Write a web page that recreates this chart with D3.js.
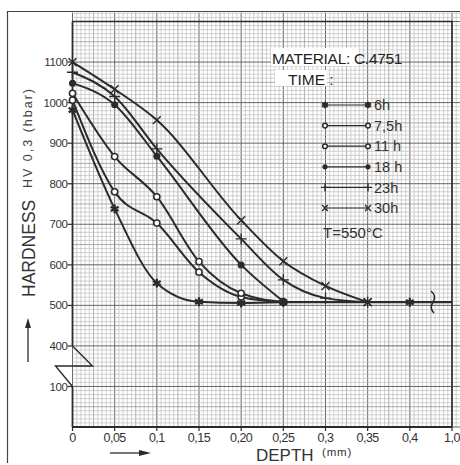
<!DOCTYPE html>
<html>
<head>
<meta charset="utf-8">
<script src="https://cdn.jsdelivr.net/npm/d3@7"></script>
<style>
  body { margin: 0; background: #fff; }
  svg { display: block; font-family: "Liberation Sans", Arial, sans-serif; }
</style>
</head>
<body>
<svg id="chart" width="460" height="465"></svg>
<script>
// tick labels
const depthTicks = [0, 0.05, 0.1, 0.15, 0.2, 0.25, 0.3, 0.35, 0.4, 0.45]
const depthLabels = ["0", "0,05", "0,1", "0,15", "0,20", "0,25", "0,3", "0,35", "0,4", "1,0"]
const hardTicks = [100, 400, 500, 600, 700, 800, 900, 1000, 1100]

// series : [depth mm, hardness HV]
const names = ["6h", "7,5h", "11 h", "18 h", "23h", "30h"]
const marks = ["star", "circle", "circle", "dot", "plus", "cross"]
const h6 = [[0, 982], [0.05, 738], [0.1, 555], [0.15, 509], [0.2, 506], [0.25, 508]]
const h75 = [[0, 1006], [0.05, 780], [0.1, 703], [0.15, 582], [0.2, 521], [0.25, 508]]
const h11 = [[0, 1023], [0.05, 867], [0.1, 768], [0.15, 608], [0.2, 530], [0.25, 509]]
const h18 = [[0, 1048], [0.05, 995], [0.1, 868], [0.2, 600], [0.25, 510]]
const h23 = [[0, 1075], [0.05, 1015], [0.1, 886], [0.2, 664], [0.25, 563], [0.3, 518], [0.35, 508]]
const h30 = [[0, 1100], [0.05, 1033], [0.1, 957], [0.2, 710], [0.25, 609], [0.3, 548], [0.35, 508]]
const series = [h6, h75, h11, h18, h23, h30]
// common base line after the curves meet
const tail = [[0.25, 508], [0.45, 508]]
const tailMarks = [[0.35, 508, "cross"], [0.4, 508, "star"]]

const svg = d3.select("#chart")
const ink = "#2b2b2b"

const x = d3.scaleLinear().domain([0, 0.45]).range([72.5, 452])
// broken axis between 100 and 400
const y = d3.scaleLinear().domain([0, 100, 400, 1200]).range([427, 386.5, 346, 21.5])
const gy = d3.scaleLinear().domain([0, 10]).range([427, 21.5])

// outer frame
svg.append("path").attr("d", "M7.5,463 V11.5 H460")
  .attr("fill", "none").attr("stroke", "#444").attr("stroke-width", 1.2)

// graph paper
const grid = svg.append("g")
d3.range(0, 93).forEach(i => {
  const px = x(i * 0.005)
  if (px > 460) return
  grid.append("line").attr("x1", px).attr("x2", px).attr("y1", 12.5).attr("y2", 427)
    .attr("stroke", i % 10 == 0 ? "#666" : i % 5 == 0 ? "#8c8c8c" : "#bdbdbd")
    .attr("stroke-width", i % 10 == 0 ? 1 : 0.7)
})
d3.range(0, 103).forEach(i => {
  const py = gy(i / 10)
  grid.append("line").attr("x1", 72.5).attr("x2", 460).attr("y1", py).attr("y2", py)
    .attr("stroke", i % 10 == 0 ? "#666" : i % 5 == 0 ? "#8c8c8c" : "#bdbdbd")
    .attr("stroke-width", i % 10 == 0 ? 1 : 0.7)
})

// plot frame
svg.append("path").attr("d", `M${x(0)},${y(1200)} H${x(0.45)} V${y(0)}`)
  .attr("fill", "none").attr("stroke", ink).attr("stroke-width", 1.6)
svg.append("line").attr("x1", x(0)).attr("x2", x(0.45)).attr("y1", y(0)).attr("y2", y(0))
  .attr("stroke", ink).attr("stroke-width", 1.8)
svg.append("line").attr("x1", x(0)).attr("x2", x(0)).attr("y1", y(1200)).attr("y2", y(400))
  .attr("stroke", ink).attr("stroke-width", 1.8)
svg.append("line").attr("x1", x(0)).attr("x2", x(0)).attr("y1", y(100)).attr("y2", y(0))
  .attr("stroke", ink).attr("stroke-width", 1.8)
// axis break symbol
svg.append("path")
  .attr("d", `M${x(0)},${y(400)} L${x(0) + 20},${y(400) + 20} L${x(0) - 17},${y(400) + 20} L${x(0)},${y(100)}`)
  .attr("fill", "none").attr("stroke", ink).attr("stroke-width", 1.4)

// y ticks
const yt = svg.append("g").attr("font-size", 11.5).attr("fill", "#333")
hardTicks.forEach(v => {
  yt.append("line").attr("x1", x(0) - 5).attr("x2", x(0)).attr("y1", y(v)).attr("y2", y(v))
    .attr("stroke", ink).attr("stroke-width", 1.2)
  yt.append("text").attr("x", x(0) - 5).attr("y", y(v)).attr("dy", "0.35em")
    .attr("text-anchor", "end").attr("letter-spacing", -0.4).text(v)
})
// x ticks
const xt = svg.append("g").attr("font-size", 12.5).attr("fill", "#333")
depthTicks.forEach((d, i) => {
  xt.append("line").attr("x1", x(d)).attr("x2", x(d)).attr("y1", y(0)).attr("y2", y(0) + 4)
    .attr("stroke", ink).attr("stroke-width", 1.2)
  xt.append("text").attr("x", x(d)).attr("y", 442).attr("text-anchor", "middle")
    .attr("letter-spacing", -0.5).text(depthLabels[i])
})

// axis titles
svg.append("text").attr("transform", "translate(34.5,297) rotate(-90)")
  .attr("font-size", 17.5).attr("fill", "#333").text("HARDNESS")
svg.append("text").attr("transform", "translate(31.5,188) rotate(-90)")
  .attr("font-size", 12.5).attr("fill", "#444")
  .attr("textLength", 99).attr("lengthAdjust", "spacing").text("HV 0,3 (hbar)")
svg.append("text").attr("x", 256).attr("y", 461).attr("font-size", 17).attr("fill", "#333").text("DEPTH")
svg.append("text").attr("x", 322).attr("y", 456).attr("font-size", 11.5).attr("fill", "#333")
  .attr("letter-spacing", 0.8).text("(mm)")

// arrows
svg.append("line").attr("x1", 28).attr("x2", 28).attr("y1", 362).attr("y2", 326)
  .attr("stroke", ink).attr("stroke-width", 1.3)
svg.append("path").attr("d", "M28,318 L25,328 L31,328 Z").attr("fill", ink)
svg.append("line").attr("x1", 110).attr("x2", 142).attr("y1", 453).attr("y2", 453)
  .attr("stroke", ink).attr("stroke-width", 1.3)
svg.append("path").attr("d", "M151,453 L139,450 L139,456 Z").attr("fill", ink)

// marker shapes
function drawMark(g, kind, px, py, k = 1) {
  if (kind == "circle") {
    g.append("circle").attr("cx", px).attr("cy", py).attr("r", 3.1 * k)
      .attr("fill", "#fff").attr("stroke", ink).attr("stroke-width", 1.5)
  } else if (kind == "dot") {
    g.append("circle").attr("cx", px).attr("cy", py).attr("r", 3.5 * k).attr("fill", ink)
  } else {
    const t = kind == "star" ? (d3.symbolAsterisk || d3.symbolCross)
      : kind == "plus" ? (d3.symbolPlus || d3.symbolCross) : (d3.symbolTimes || d3.symbolX)
    g.append("path").attr("transform", `translate(${px},${py})`)
      .attr("d", d3.symbol().type(t).size((kind == "star" ? 55 : 42) * k * k)())
      .attr("fill", "none").attr("stroke", ink).attr("stroke-width", kind == "star" ? 2.3 : 1.4)
  }
}

const line = d3.line().x(d => x(d[0])).y(d => y(d[1])).curve(d3.curveMonotoneX)
const plot = svg.append("g")
plot.append("path").attr("d", line(tail)).attr("fill", "none").attr("stroke", ink).attr("stroke-width", 2.2)
series.forEach(s => {
  plot.append("path").attr("d", line(s)).attr("fill", "none").attr("stroke", ink).attr("stroke-width", 2)
})
series.forEach((s, i) => s.forEach(d => drawMark(plot, marks[i], x(d[0]), y(d[1]))))
tailMarks.forEach(d => drawMark(plot, d[2], x(d[0]), y(d[1])))
// break on the base line
plot.append("path").attr("d", "M431,291 Q437,296 433,302 Q429,308 434,313")
  .attr("fill", "none").attr("stroke", ink).attr("stroke-width", 1.6)

// notes
const note = svg.append("g").attr("fill", "#222")
note.append("rect").attr("x", 271).attr("y", 48).attr("width", 88).attr("height", 18).attr("fill", "#fff")
note.append("rect").attr("x", 275).attr("y", 70).attr("width", 52).attr("height", 16).attr("fill", "#fff")
note.append("text").attr("x", 272).attr("y", 64).attr("font-size", 15.5).attr("letter-spacing", -0.3)
  .text("MATERIAL: C.4751")
note.append("text").attr("x", 288).attr("y", 84.5).attr("font-size", 15.5).text("TIME :")

// legend
const leg = svg.append("g")
names.forEach((n, i) => {
  const ly = 105 + i * 20.6
  leg.append("line").attr("x1", 325).attr("x2", 368).attr("y1", ly).attr("y2", ly)
    .attr("stroke", ink).attr("stroke-width", 1.2)
  drawMark(leg, marks[i], 325, ly, 0.75)
  drawMark(leg, marks[i], 368, ly, 0.75)
  leg.append("text").attr("x", 374).attr("y", ly).attr("dy", "0.36em")
    .attr("font-size", 14.5).attr("fill", "#333").text(n)
})
svg.append("text").attr("x", 323).attr("y", 238).attr("font-size", 15).attr("fill", "#333")
  .text("T=550°C")
</script>
</body>
</html>
